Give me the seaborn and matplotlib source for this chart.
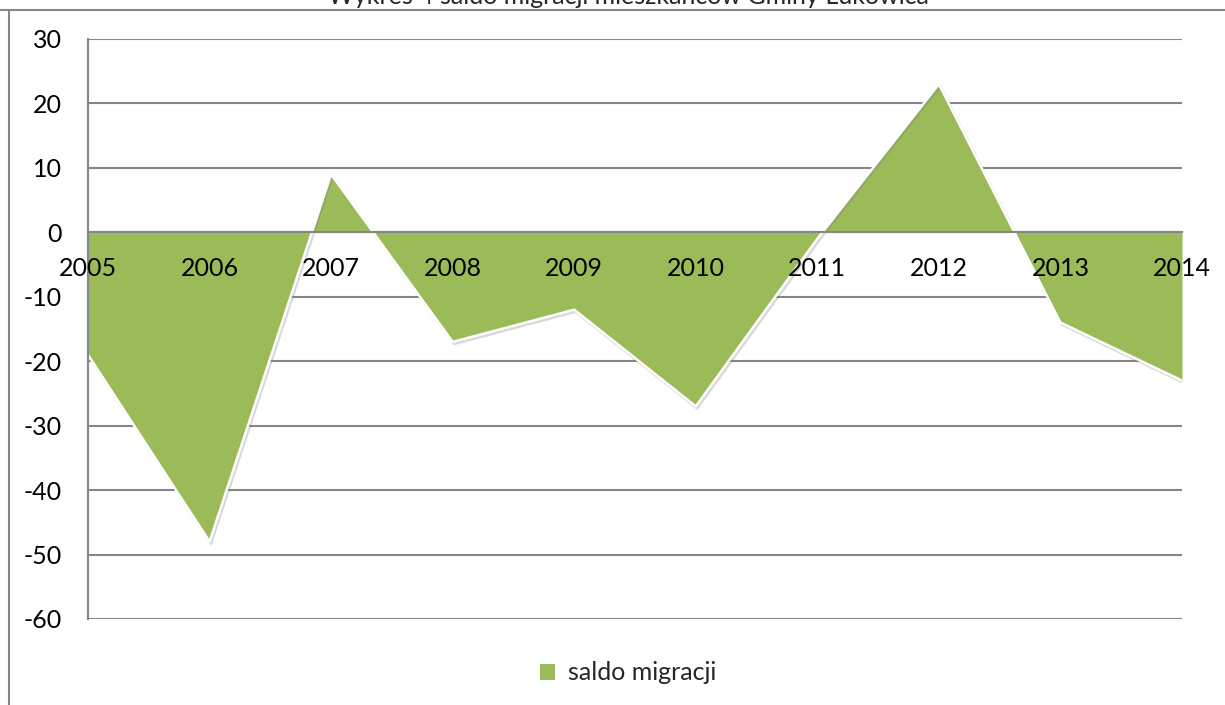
import numpy as np
import pandas as pd
import matplotlib
matplotlib.use("Agg")
import matplotlib.pyplot as plt
import matplotlib.patheffects as pe
from matplotlib.lines import Line2D
from matplotlib.patches import Patch
import seaborn as sns

# dane z wykresu
lata = ["2005", "2006", "2007", "2008", "2009", "2010", "2011", "2012", "2013", "2014"]
saldo = [-19, -48, 9, -17, -12, -27, -1, 23, -14, -23]
y_ticks = [30, 20, 10, 0, -10, -20, -30, -40, -50, -60]

tytul = "Wykres 4 saldo migracji mieszkańców Gminy Łukowica"
etykieta = "saldo migracji"

zielony = "#9BBB59"
szary = "#868686"

sns.set_theme(style="white")
plt.rcParams["font.family"] = ["Lato", "DejaVu Sans"]
plt.rcParams["font.size"] = 18
plt.rcParams["axes.unicode_minus"] = False

df = pd.DataFrame({"rok": lata, "saldo": saldo})
df["poz"] = np.arange(len(df))

fig = plt.figure(figsize=(12.25, 7.05), dpi=100)
ax = fig.add_axes([88 / 1225, 1 - 619 / 705, 1094 / 1225, 580 / 705])

# obszar
ax.fill_between(df["poz"], df["saldo"], 0, color=zielony, lw=0, zorder=1.5)
sns.lineplot(data=df, x="poz", y="saldo", ax=ax, color="white", lw=1.8, zorder=1.6,
             path_effects=[pe.SimpleLineShadow(offset=(1, -1.5), shadow_color="gray", alpha=0.3),
                           pe.Normal()])

ax.set_xlim(0, len(lata) - 1)
ax.set_ylim(-60, 30)
ax.set_yticks(y_ticks)
ax.set_xticks(df["poz"])
ax.set_xticklabels(lata)
ax.set_xlabel("")
ax.set_ylabel("")

# siatka pod obszarem, os x (linia zera i etykiety) nad obszarem
ax.yaxis.grid(True, color=szary, lw=1.5)
ax.xaxis.grid(False)
ax.yaxis.set_zorder(0.5)
ax.xaxis.set_zorder(3)

for s in ["top", "right"]:
    ax.spines[s].set_visible(False)
ax.spines["left"].set_color(szary)
ax.spines["left"].set_linewidth(1.5)
ax.spines["bottom"].set_position(("data", 0))
ax.spines["bottom"].set_color(szary)
ax.spines["bottom"].set_linewidth(1.5)
ax.spines["bottom"].set_zorder(2.5)

ax.tick_params(axis="x", length=0, pad=18, labelsize=18, labelcolor="black")
ax.tick_params(axis="y", length=0, pad=19, labelsize=18, labelcolor="black")

# legenda
uchwyt = Patch(facecolor=zielony, edgecolor="none")
fig.legend([uchwyt], [etykieta], loc="center", bbox_to_anchor=(628 / 1225, 1 - 673 / 705),
           frameon=False, handlelength=0.6, handleheight=0.6, handletextpad=0.5, fontsize=18)

# tytul (uciety u gory jak w oryginale) i ramka
fig.text(628 / 1225, 1 - 4 / 705, tytul, ha="center", va="baseline", fontsize=18)
fig.add_artist(Line2D([0, 1], [1 - 10 / 705, 1 - 10 / 705], color=szary, lw=1.5))
fig.add_artist(Line2D([9 / 1225, 9 / 1225], [0, 1 - 10 / 705], color=szary, lw=1.5))

fig.savefig("out.png", dpi=100)
